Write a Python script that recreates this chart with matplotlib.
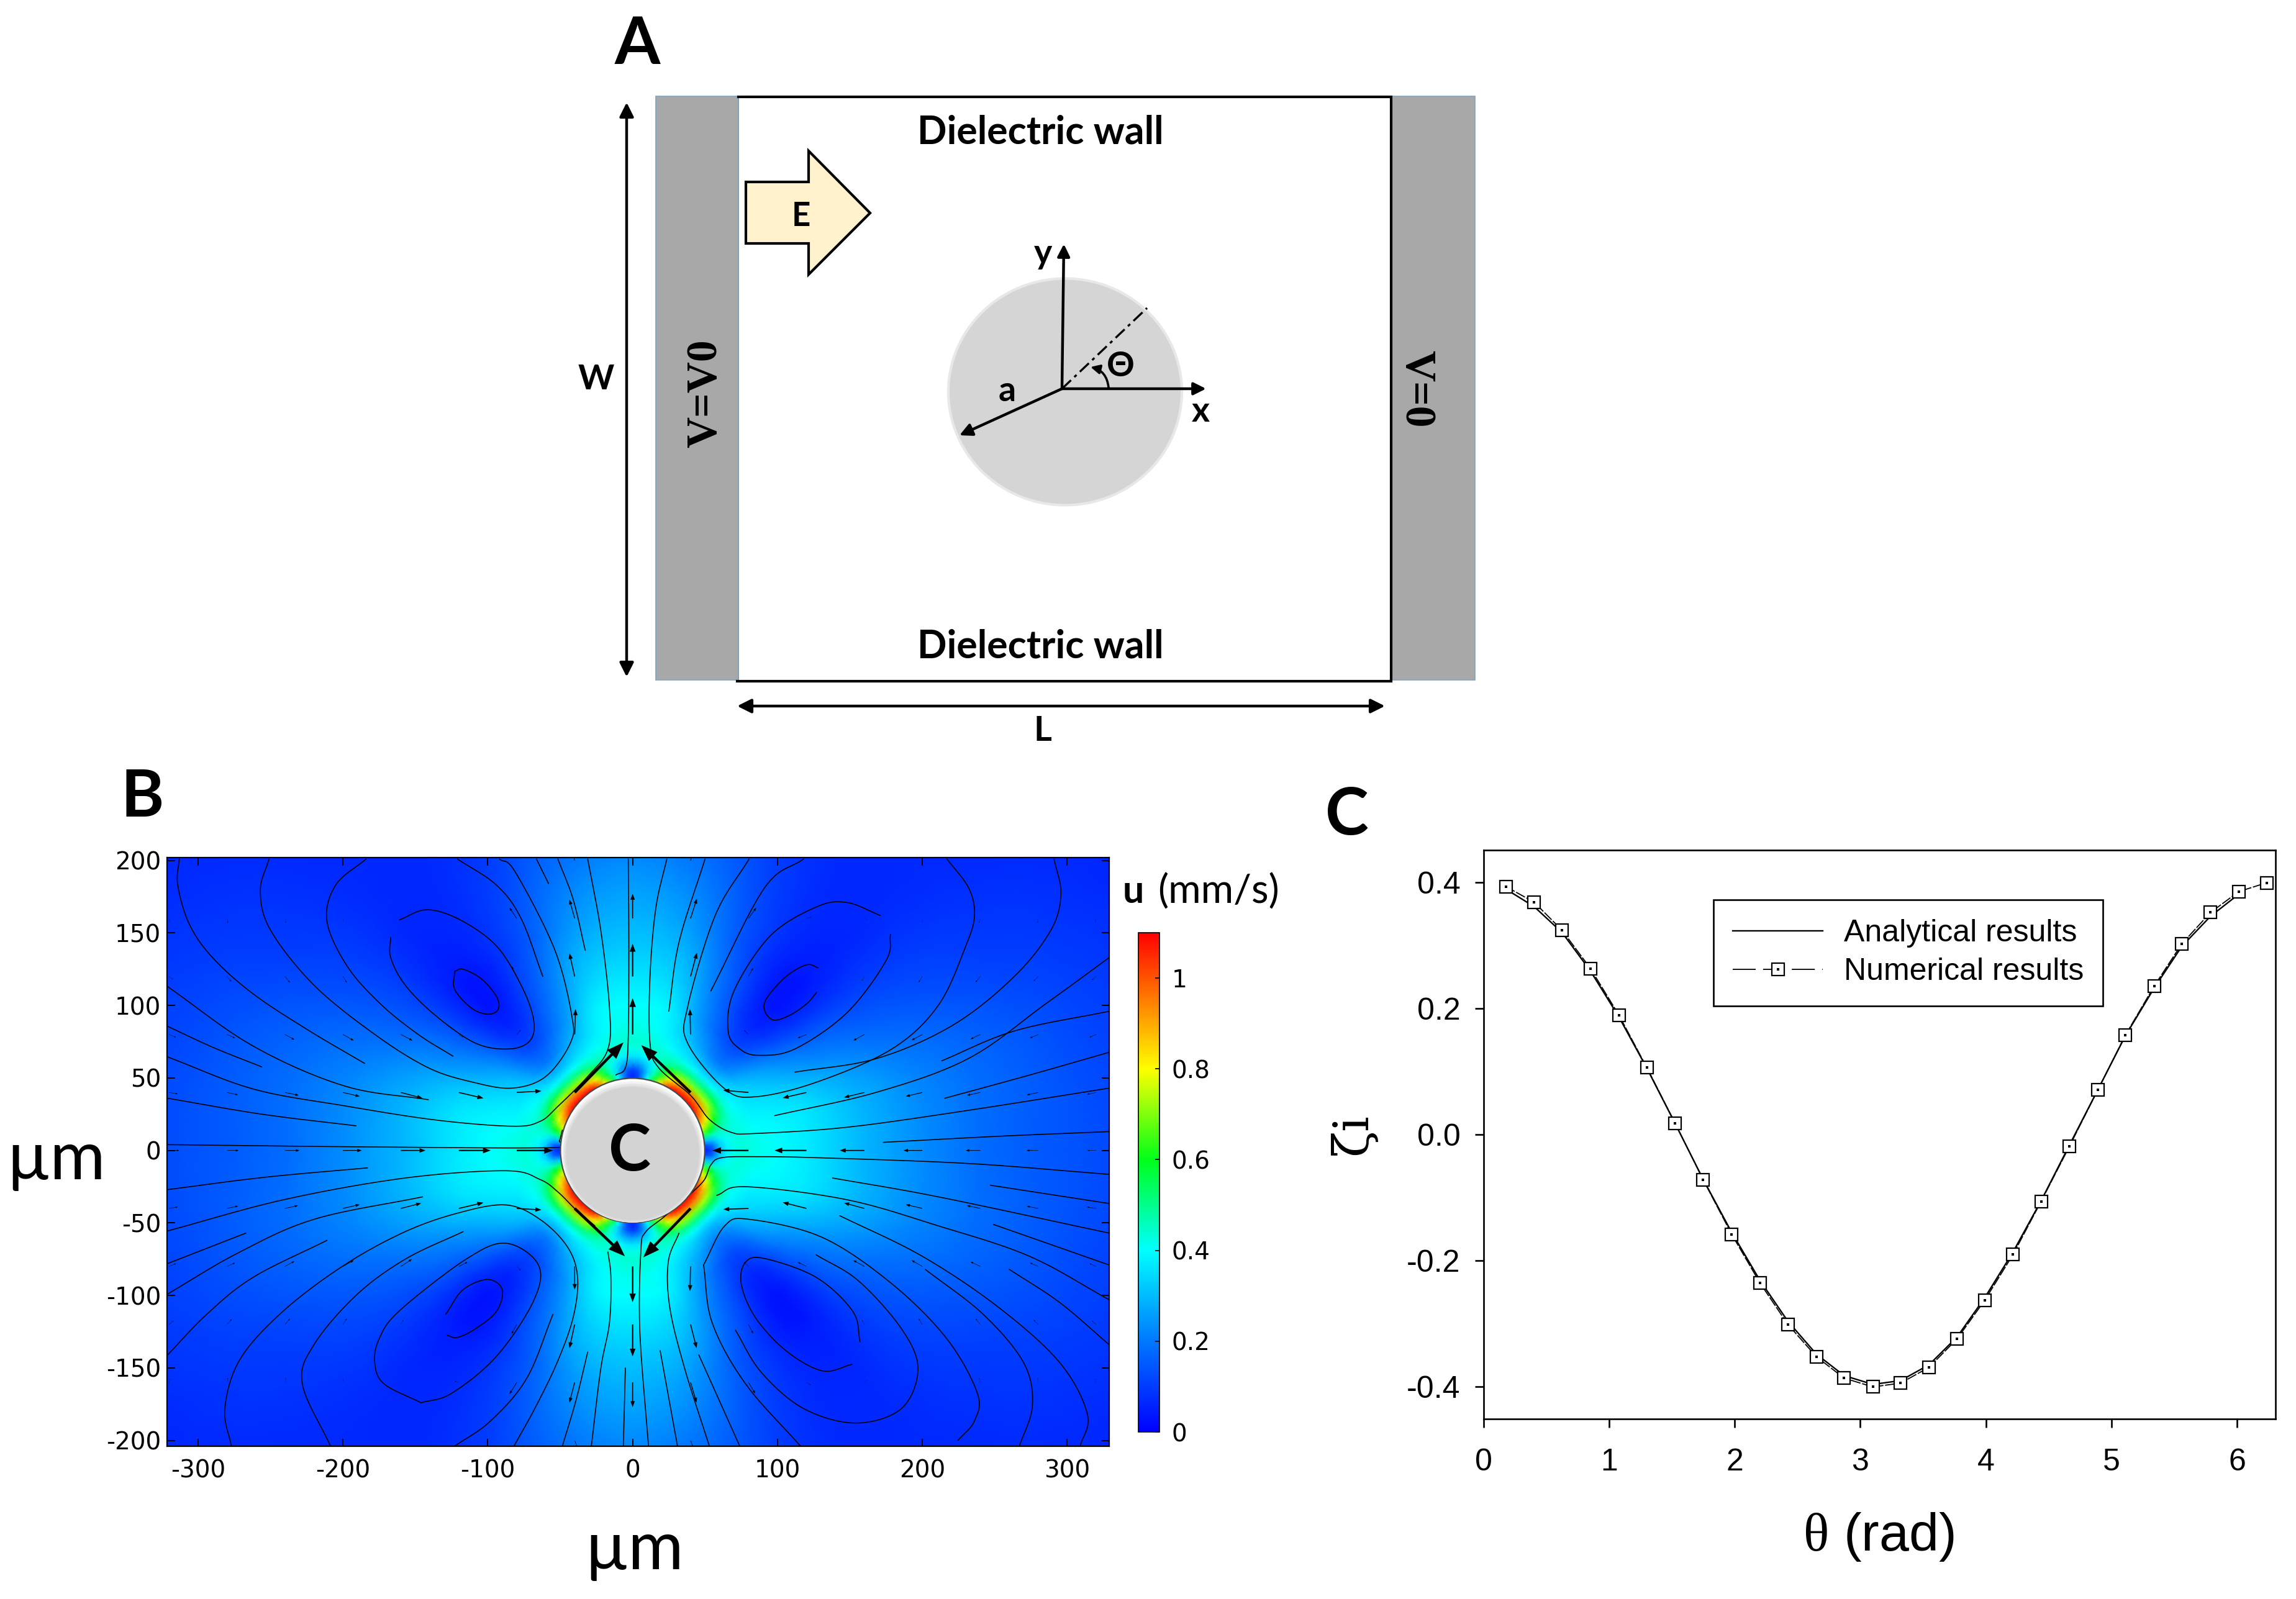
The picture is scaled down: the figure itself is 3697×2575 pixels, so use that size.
import numpy as np
import matplotlib
matplotlib.use("Agg")
import matplotlib.pyplot as plt
from matplotlib.colors import LinearSegmentedColormap, Normalize
from matplotlib.cm import ScalarMappable
from matplotlib.patches import Rectangle, Ellipse, Polygon, Circle, FancyArrowPatch
from matplotlib.legend_handler import HandlerTuple

W_PX, H_PX = 3697, 2575
DPI = 100
plt.rcParams["mathtext.fontset"] = "custom"
plt.rcParams["mathtext.it"] = "Liberation Serif"
plt.rcParams["mathtext.rm"] = "Liberation Sans"
plt.rcParams["axes.unicode_minus"] = False

# ---------- Panel C data ----------
theta_rad = [0.176, 0.403, 0.625, 0.851, 1.078, 1.300, 1.526, 1.748, 1.975, 2.200, 2.423, 2.650, 2.870, 3.100,
             3.320, 3.547, 3.770, 3.990, 4.217, 4.440, 4.665, 4.892, 5.110, 5.340, 5.560, 5.790, 6.015, 6.237]
numerical = [0.393, 0.368, 0.3235, 0.263, 0.189, 0.106, 0.0175, -0.0715, -0.158, -0.235, -0.301, -0.352, -0.386, -0.400,
             -0.394, -0.369, -0.324, -0.263, -0.190, -0.106, -0.019, 0.0707, 0.157, 0.235, 0.302, 0.352, 0.385, 0.399]
theta_analytic = theta_rad[:27]
analytic = [0.389, 0.361, 0.320, 0.259, 0.186, 0.105, 0.017, -0.071, -0.155, -0.231, -0.296, -0.348, -0.382, -0.396,
            -0.390, -0.365, -0.321, -0.259, -0.186, -0.105, -0.017, 0.071, 0.156, 0.232, 0.298, 0.346, 0.381]

# ---------- Panel B: speed read on a polar grid for one quadrant (mm/s) ----------
speed_r = [50, 55, 60, 65, 70, 75, 85, 100, 120, 140, 160, 180, 200, 240, 280, 320, 400]
speed_deg = [0, 15, 30, 45, 60, 75, 90]
speed_000 = [.05, .12, .30, .38, .42, .43, .42, .40, .37, .33, .29, .26, .23, .18, .15, .13, .09]
speed_015 = [.70, .60, .50, .46, .43, .42, .39, .38, .36, .32, .28, .25, .22, .18, .15, .12, .08]
speed_030 = [1.05, .90, .72, .55, .44, .38, .33, .29, .23, .19, .17, .15, .14, .12, .10, .09, .06]
speed_045 = [1.10, .95, .70, .50, .38, .30, .20, .12, .06, .03, .03, .05, .06, .07, .07, .06, .05]
speed_060 = [1.05, .85, .68, .50, .42, .36, .29, .22, .18, .15, .12, .11, .10, .08, .07, .06, .05]
speed_075 = [.55, .45, .42, .44, .44, .42, .39, .38, .33, .29, .25, .22, .19, .14, .11, .09, .07]
speed_090 = [.05, .10, .25, .36, .42, .44, .42, .40, .36, .32, .29, .26, .23, .19, .16, .14, .10]

color_stops = [(0.0, (0, 0, 1)), (0.2 / 1.1, (0, .47, 1)), (0.4 / 1.1, (0, 1, 1)), (0.6 / 1.1, (0, 1, .1)),
               (0.8 / 1.1, (1, 1, 0)), (1.0 / 1.1, (1, .33, 0)), (1.0, (1, 0, 0))]

# ---------- Panel B: velocity arrows on the 40 um grid ----------
arrow_x = [-320, -280, -240, -200, -160, -120, -80, -40, 0, 40, 80, 120, 160, 200, 240, 280, 320]
arrow_y = [200, 160, 120, 80, 40, 0, -40, -80, -120, -160, -200]
arrow_u = [
    [0, 0, 0, 0, 0, 0, 0, -3, 0, 3, 0, 0, 0, 0, 0, 0, 0],
    [.8, .6, .6, 0, .5, -2.7, -5, -3.6, 0, 4.4, 5.3, 3.6, 2, 0, -1, -.4, -.8],
    [2.7, 3, 3.4, 2.7, 1, 0, -3.6, -3.6, 0, 4.4, 3.2, 0, -1.7, -2.5, -3.2, -3.2, -3],
    [4.8, 5.5, 6.5, 7.4, 8, 3, 2.7, .6, 0, -.4, -3, -6, -7.6, -7.4, -6.7, -5.7, -4.6],
    [6, 7.6, 9.5, 11.6, 15, 17, 17, 33.7, 0, -34, -17.5, -16.4, -14, -11.4, -9.3, -7.8, -6.3],
    [7, 8, 10, 13, 17, 22, 25, 0, 0, 0, -25, -22, -17, -13, -10, -8, -6],
    [6, 7.6, 9, 11.6, 14, 17, 17, 34.7, 0, -32.6, -17.5, -16.4, -14, -11.4, -9.3, -7.8, -6.3],
    [4.8, 5.5, 6.5, 7.4, 7.6, 6, 2.7, 0, 0, -.4, -3, -6, -7.6, -7.4, -6.7, -5.7, -4.6],
    [3, 3.2, 3.4, 2.7, 1.7, 0, -3.6, -3.6, 0, 4.2, 3.2, 0, -1.7, -2.5, -3.2, -3.2, -3],
    [.8, .6, .6, 0, .5, -3, -5, -3.6, 0, 4.2, 4.6, 3, 1.7, 0, -.8, -.4, -.8],
    [0, 0, 0, 0, 0, 0, 0, 3, 0, 3, 0, 0, 0, 0, 0, 0, 0],
]
arrow_v = [
    [0, 0, 0, 0, 0, 0, 0, 10, 13, 10, 0, 0, 0, 0, 0, 0, 0],
    [-2.5, -3, -3, -2, .5, 1, 7.4, 13, 17, 13.7, 7.4, 1, -1, -2.5, -3, -3, -2.5],
    [-2, -3.6, -4.2, -4.2, -2, 0, 7, 16, 22.5, 16.4, 5.9, 0, -3, -4, -4, -3.2, -2.5],
    [-2, -2.5, -3.6, -4.2, -4.2, -2, 3, 17.5, 25, 17.5, 3, -2.5, -4.2, -4, -3.2, -2.5, -2],
    [-1, -1.7, -2, -2.7, -4, -4, 1, 34.5, 0, 32.6, 1.5, -3.8, -3.4, -2.7, -2, -1.7, -1.3],
    [0, 0, 0, 0, 0, 0, 0, 0, 0, 0, 0, 0, 0, 0, 0, 0, 0],
    [1, 1.7, 2, 2.7, 3.6, 4, -1, -33, 0, -33.7, -.6, 4.2, 3.8, 2.7, 2, 1.5, 1],
    [2, 2.5, 3.6, 4.2, 5, 3, -2.7, -16, -24.6, -17, 3, 3, 4.2, 4.2, 3.2, 2.5, 2],
    [2.5, 3.6, 4, 4, 3, 0, -6.5, -16.4, -22, -16.4, -6.3, 0, 3, 4, 4, 3.2, 2.5],
    [2.5, 3, 3, 2, .5, 1, -8, -14, -17, -14, -7.6, -1.7, 1.5, 2.5, 3, 3, 2.5],
    [0, 0, 0, 0, 0, 0, 0, -8, -13, -8, 0, 0, 0, 0, 0, 0, 0],
]

# ---------- Panel B: streamlines (um) ----------
streamlines = [
    [(-313,201),(-314,183),(-306,156),(-290,133),(-262,108),(-224,83),(-185,60)],
    [(-184,201),(-205,183),(-211,158),(-197,127),(-174,101),(-148,80),(-124,65)],
    [(-251,201),(-257,179),(-250,152),(-220,114),(-178,80),(-141,57),(-110,47),(-83,43),(-60,51),(-43,74),(-42,93),(-54,139),(-81,192),(-92,201)],
    [(-161,159),(-142,166),(-119,159),(-94,141),(-77,114),(-68.5,91),(-70.6,76),(-85,70),(-108.5,74),(-136,93),(-157,114),(-167,133),(-167,147)],
    [(-122.8,123.5),(-117,125),(-104,118),(-93.7,105.6),(-93,97),(-100,94),(-111,98),(-122.8,111),(-122.8,123.5)],
    [(-121,201),(-94,183),(-77,160),(-62,120)],
    [(-321,113),(-262,72),(-199,44.5),(-141,35)],
    [(-321,85.6),(-289.5,71),(-256,57.6)],
    [(-321,64.5),(-262,42.4),(-199,30.8),(-136,21),(-83,16.7),(-64,20),(-52,30),(-31,51),(-17,70),(-16,99),(-22,152),(-31,201)],
    [(-321,36),(-256,25),(-191,17)],
    [(-66.4,201),(-58,184)],
    [(-51.6,201),(-41,173),(-32.7,138)],
    [(-3,201),(-2.6,141),(-3,78),(-5,57),(-11.6,52)],
    [(-321,4),(-178,2.4),(-53.7,2),(-50.6,6.6),(-48.5,14)],
    [(-321,-27),(-254,-18.5),(-183,-12)],
    [(-321,-55.5),(-241,-34),(-157,-19),(-87.4,-14),(-64,-20),(-51.6,-28.6),(-39,-41),(-26,-52)],
    [(-321,-99),(-273,-71),(-220,-47.5),(-145,-32)],
    [(-321,-78),(-267,-57)],
    [(-321,-141),(-294,-113),(-262,-87.5),(-211,-62)],
    [(-277,-204),(-281.5,-178),(-271,-144),(-241,-110.6),(-199,-79),(-157,-56),(-120,-43),(-87.4,-37.6),(-64,-47.5),(-45,-66.5),(-38,-87.5),(-41,-115),(-52,-146),(-67,-177),(-82,-204)],
    [(-208.5,-204),(-228,-161),(-220,-134),(-191,-100),(-157,-75),(-117,-56)],
    [(-146,-174),(-171.6,-161),(-178,-146.5),(-175,-130),(-161,-110.6),(-115,-75),(-87.4,-64),(-65,-79),(-68.5,-104),(-94,-142),(-125,-167.5),(-146,-174)],
    [(-129,-113),(-117,-96),(-100,-89),(-90,-96),(-94,-111),(-108.5,-123),(-121,-129),(-128,-127.5)],
    [(-55,-113),(-73,-157),(-98,-186.5),(-123,-204)],
    [(-17,-70),(-15,-87.5),(-16,-119),(-22,-150.6),(-28.5,-204)],
    [(-31,-139),(-39,-172),(-48.5,-204)],
    [(-5,-150),(-6.4,-204)],
    [(23.6,201),(16,167),(12,120),(12,74),(18,57),(40,38),(53,21.4),(68,12.5),(84.6,11.7),(148,16),(232,27.7),(329,43)],
    [(50,201),(32,143.5),(25,96)],
    [(80.4,201),(57,162),(38,99),(38,74),(63.6,42.5),(84.6,37),(126.7,47),(179,70),(211,100),(230,141),(236,162),(232,181),(217,201)],
    [(118,201),(91,181),(54,110)],
    [(171,162),(148,171),(127,168),(95,148),(70,110),(66,82),(74,70),(87,65.6),(112,70),(148,95),(175,131),(178,149)],
    [(128,126),(120,128),(106,120),(93,105.6),(91,97),(97,90),(108,93),(120,101),(127,109)],
    [(290.9,201),(295.7,177),(288.8,152),(263.5,120),(221.4,86.6),(168.8,63.5),(112,54)],
    [(98,24),(169,40.3),(232,63.5),(285,101),(329,133)],
    [(213.4,61.8),(263.5,82.4),(329,96)],
    [(215.5,36),(274,52),(329,67.7)],
    [(173,5.6),(253,9.8),(329,13)],
    [(329,-16.5),(232,-9),(127,-5),(84.6,-4.3),(61.4,-5),(54,-10),(49,-21),(36,-33.4),(21.5,-46),(8.8,-56.5),(5.7,-69),(5,-125),(11,-204)],
    [(138,-19),(211,-32),(329,-57)],
    [(249,-51),(329,-79)],
    [(247,-24),(329,-36.6)],
    [(58,-31),(78,-25),(148,-34),(211,-52),(274,-73),(329,-103)],
    [(143,-45),(200,-73),(253,-108.5),(295,-146.5),(314,-182),(309,-204)],
    [(49,-79),(63.6,-52),(80.4,-47.5),(131,-60),(179,-92),(217,-130),(238,-167.5),(236,-186.5),(224.6,-200)],
    [(49,-79),(55,-119),(78,-161),(116,-204)],
    [(126.7,-72),(156,-90),(185.6,-123),(197,-150.6),(185.6,-178),(154,-188),(118,-178),(88.8,-153),(71,-124)],
    [(157,-132),(152,-111),(126.7,-87.5),(91,-74.5),(78,-77),(75,-92),(84.6,-115),(105.7,-138),(131,-152),(151.5,-147.5)],
    [(202,-82),(242,-113),(270,-146.5),(276,-176),(267,-204)],
    [(260,-82),(295,-105),(329,-134)],
    [(32,-57),(24.6,-77),(25.7,-108.5),(36,-150.6),(53,-204)],
    [(19,-138),(31,-204)],
    [(45.7,-141),(74,-204)],
]

x_ticks_b = [-300, -200, -100, 0, 100, 200, 300]
y_ticks_b = [-200, -150, -100, -50, 0, 50, 100, 150, 200]
cbar_ticks = [0, 0.2, 0.4, 0.6, 0.8, 1]
cbar_labels = ["0", "0.2", "0.4", "0.6", "0.8", "1"]


def smooth(pts, n=14):
    """Catmull-Rom curve through the read points, for drawing only."""
    p = np.asarray(pts, float)
    if len(p) < 3:
        return p
    q = np.vstack([2 * p[0] - p[1], p, 2 * p[-1] - p[-2]])
    out = []
    t = np.linspace(0, 1, n, endpoint=False)[:, None]
    for i in range(1, len(q) - 2):
        a, b, c, d = q[i - 1], q[i], q[i + 1], q[i + 2]
        out.append(0.5 * (2 * b + (c - a) * t + (2 * a - 5 * b + 4 * c - d) * t ** 2 + (3 * b - a - 3 * c + d) * t ** 3))
    out.append(p[-1:])
    return np.vstack(out)


fig = plt.figure(figsize=(W_PX / DPI, H_PX / DPI), dpi=DPI, facecolor="white")


def axes_px(l, t, r, b, **kw):
    return fig.add_axes([l / W_PX, 1 - b / H_PX, (r - l) / W_PX, (b - t) / H_PX], **kw)


# ---------- Overlay (panel A and loose labels), in pixel units ----------
ov = fig.add_axes([0, 0, 1, 1], zorder=0)
ov.set_xlim(0, W_PX)
ov.set_ylim(H_PX, 0)
ov.axis("off")
LB = "Lato"


def label(x, y, s, size, weight="bold", family=LB, rot=0, **kw):
    ov.text(x, y, s, fontsize=size, fontweight=weight, family=family, rotation=rot, ha="center", va="center", color="black", **kw)


def dbl(p0, p1, style="<|-|>", lw=3.2, ms=34):
    ov.add_patch(FancyArrowPatch(p0, p1, arrowstyle=style, mutation_scale=ms, lw=lw, color="black", shrinkA=0, shrinkB=0))


label(1026, 73, "A", 76)
label(229, 1285, "B", 76)
label(2169, 1314, "C", 76)

ov.add_patch(Rectangle((1056, 155), 133, 940, fc="#a8a8a8", ec="#7fa3bf", lw=1.2))
ov.add_patch(Rectangle((2241, 155), 134, 940, fc="#a8a8a8", ec="#7fa3bf", lw=1.2))
ov.plot([1189, 1189], [156, 1097], color="#7fa3bf", lw=1.4)
ov.plot([1189, 2240, 2240, 1187], [156, 156, 1097, 1097], color="black", lw=3, solid_joinstyle="miter")
label(1675, 214, "Dielectric wall", 45)
label(1675, 1041, "Dielectric wall", 45)
label(1136, 634, "V=V0", 50, family="Liberation Serif", rot=90)
label(2280, 626, "V=0", 50, family="Liberation Serif", rot=270)
label(960, 611, "W", 40)
label(1679, 1177, "L", 40)
dbl((1009, 165), (1009, 1090))
dbl((1187, 1137), (2230, 1137))

ov.add_patch(Polygon([(1201, 293), (1302, 293), (1302, 243), (1401, 343), (1302, 442), (1302, 392), (1201, 392)],
                     closed=True, fc="#FFF2CC", ec="black", lw=3))
label(1290, 349, "E", 38)

ov.add_patch(Ellipse((1715, 631), 376, 365, fc="#d5d5d5", ec="#e8e8e8", lw=3))
dbl((1710, 626), (1713, 393), style="-|>", ms=30)
dbl((1710, 626), (1942, 626), style="-|>", ms=30)
dbl((1710, 626), (1545, 701), style="-|>", ms=30)
ov.plot([1710, 1847], [626, 496], color="black", lw=2.4, ls=(0, (6, 2.2, 1.5, 2.2)))
ov.add_patch(FancyArrowPatch((1785, 624), (1756, 591), connectionstyle="arc3,rad=0.35", arrowstyle="-|>",
                             mutation_scale=22, lw=2.6, color="black", shrinkA=0, shrinkB=0))
label(1804, 590, "Θ", 40)
label(1679, 409, "y", 40)
label(1933, 663, "x", 40)
label(1622, 630, "a", 40)

label(90, 1868, "µm", 78, weight="normal")
label(1021, 2497, "µm", 78, weight="normal")

# ---------- Panel B ----------
ax = axes_px(269, 1381, 1786, 2329, zorder=2)
cmap = LinearSegmentedColormap.from_list("comsol_rainbow", color_stops, N=512)
norm = Normalize(0, 1.1)

quad = np.array([speed_000, speed_015, speed_030, speed_045, speed_060, speed_075, speed_090])
rows = np.vstack([quad, quad[-2::-1], quad[1:], quad[-2::-1]])
deg = np.array(speed_deg, float)
ang = np.concatenate([deg, 180 - deg[-2::-1], 180 + deg[1:], 360 - deg[-2::-1]])
# display-only smoothing of the shaded mesh around the circle
sub = 4
tt = np.linspace(0, 1, sub, endpoint=False)[:, None]
fine_rows, fine_ang = [], []
m = len(ang) - 1
for i in range(m):
    a, b, c, d = rows[(i - 1) % m], rows[i], rows[i + 1], rows[(i + 2) % m]
    fine_rows.append(0.5 * (2 * b + (c - a) * tt + (2 * a - 5 * b + 4 * c - d) * tt ** 2 + (3 * b - a - 3 * c + d) * tt ** 3))
    fine_ang.append(ang[i] + (ang[i + 1] - ang[i]) * tt[:, 0])
fine_rows = np.clip(np.vstack(fine_rows + [rows[-1:]]), 0, 1.1)
fine_ang = np.radians(np.concatenate(fine_ang + [ang[-1:]]))
R, T = np.meshgrid(np.array(speed_r, float), fine_ang)
ax.pcolormesh(R * np.cos(T), R * np.sin(T), fine_rows, shading="gouraud", cmap=cmap, norm=norm, zorder=1, rasterized=True)

for line in streamlines:
    s = smooth(line)
    ax.plot(s[:, 0], s[:, 1], color="black", lw=1.15, zorder=3, solid_capstyle="round")

for j, yv in enumerate(arrow_y):
    for i, xv in enumerate(arrow_x):
        u, v = arrow_u[j][i], arrow_v[j][i]
        length = float(np.hypot(u, v))
        if length == 0:
            continue
        ax.arrow(xv, yv, u, v, width=0.04 * length, head_width=0.18 * length, head_length=0.24 * length,
                 length_includes_head=True, fc="black", ec="none", zorder=4)

# particle with a soft bevel
ax.add_patch(Circle((0, 0), 49.8, fc="#ffffff", ec="#4a4a4a", lw=1.6, zorder=5))
for k, (off, rad, col) in enumerate([(-1.0, 48.7, "#f2f2f2"), (-1.8, 47.9, "#e6e6e6"), (-2.3, 47.0, "#dcdcdc"), (-2.2, 46.0, "#d3d3d3")]):
    ax.add_patch(Circle((0, off), rad, fc=col, ec="none", zorder=5.1 + k * 0.1))
ax.text(-2, -1, "C", fontsize=74, fontweight="bold", family=LB, ha="center", va="center", zorder=6)

ax.set_xlim(-321.4, 329)
ax.set_ylim(-204, 202)
ax.set_xticks(x_ticks_b)
ax.set_yticks(y_ticks_b)
ax.tick_params(direction="in", length=9, width=1.4, top=True, right=True, labelsize=28)
ax.tick_params(axis="x", pad=15)
ax.tick_params(axis="y", pad=7)
for sp in ax.spines.values():
    sp.set_linewidth(1.6)

cax = axes_px(1833, 1502, 1867, 2306, zorder=2)
cb = fig.colorbar(ScalarMappable(norm=norm, cmap=cmap), cax=cax)
cb.set_ticks(cbar_ticks)
cb.set_ticklabels(cbar_labels)
cb.ax.tick_params(direction="in", length=5, width=1.2, labelsize=28, pad=14)
cb.outline.set_linewidth(1.2)
ov.text(1808, 1436, "u", fontsize=44, fontweight="bold", family=LB, ha="left", va="center")
ov.text(1864, 1436, "(mm/s)", fontsize=46, family=LB, ha="left", va="center")

# ---------- Panel C ----------
axc = axes_px(2389, 1369, 3664, 2285, zorder=2)
axc.plot(theta_analytic, analytic, color="black", lw=1.7, zorder=3)
axc.plot(theta_rad, numerical, color="black", lw=1.3, ls=(0, (9, 1.5)), zorder=2)
axc.plot(theta_rad, numerical, ls="none", marker="s", ms=14, mfc="white", mec="black", mew=1.6, zorder=4)
axc.plot(theta_rad, numerical, ls="none", marker="s", ms=2.4, mfc="black", mec="black", mew=0, zorder=5)
axc.set_xlim(0, 6.307)
axc.set_ylim(-0.4507, 0.4507)
axc.set_xticks(range(7))
axc.set_yticks([-0.4, -0.2, 0.0, 0.2, 0.4])
axc.set_yticklabels(["-0.4", "-0.2", "0.0", "0.2", "0.4"])
axc.tick_params(direction="out", length=10, width=1.9, labelsize=36)
axc.tick_params(axis="x", pad=24)
axc.tick_params(axis="y", pad=17)
for t in axc.get_xticklabels() + axc.get_yticklabels():
    t.set_family("Liberation Sans")
for sp in axc.spines.values():
    sp.set_linewidth(1.9)
axc.set_xlabel(r"$\theta$ (rad)", fontsize=62, family="Liberation Sans", labelpad=0)
axc.xaxis.set_label_coords((3025 - 2389) / 1275, -(2433 - 2285) / 916)
axc.text(2179, 1827, "ζi", transform=ov.transData, rotation=90, fontsize=56, family="DejaVu Serif",
         ha="center", va="center", clip_on=False)

h_ana, = axc.plot([], [], color="black", lw=1.7)
h_num, = axc.plot([], [], color="black", lw=1.3, ls=(0, (20.5, 6.6, 19, 6.6)), marker="s", ms=14, mfc="white", mec="black", mew=1.6)
h_dot, = axc.plot([], [], ls="none", marker="s", ms=2.4, mfc="black", mec="black", mew=0)
leg = axc.legend([h_ana, (h_num, h_dot)], ["Analytical results", "Numerical results"],
                 handler_map={tuple: HandlerTuple(ndivide=1, pad=0)}, loc="upper left",
                 bbox_to_anchor=((2759 - 2389) / 1275, 1 - (1449 - 1369) / 916), borderaxespad=0,
                 prop={"family": "Liberation Sans", "size": 36}, fancybox=False, framealpha=1, edgecolor="black",
                 handlelength=2.9, handletextpad=0.68, borderpad=0.62, labelspacing=0.33)
leg.get_frame().set_linewidth(1.9)

fig.savefig("out.png", dpi=DPI)
